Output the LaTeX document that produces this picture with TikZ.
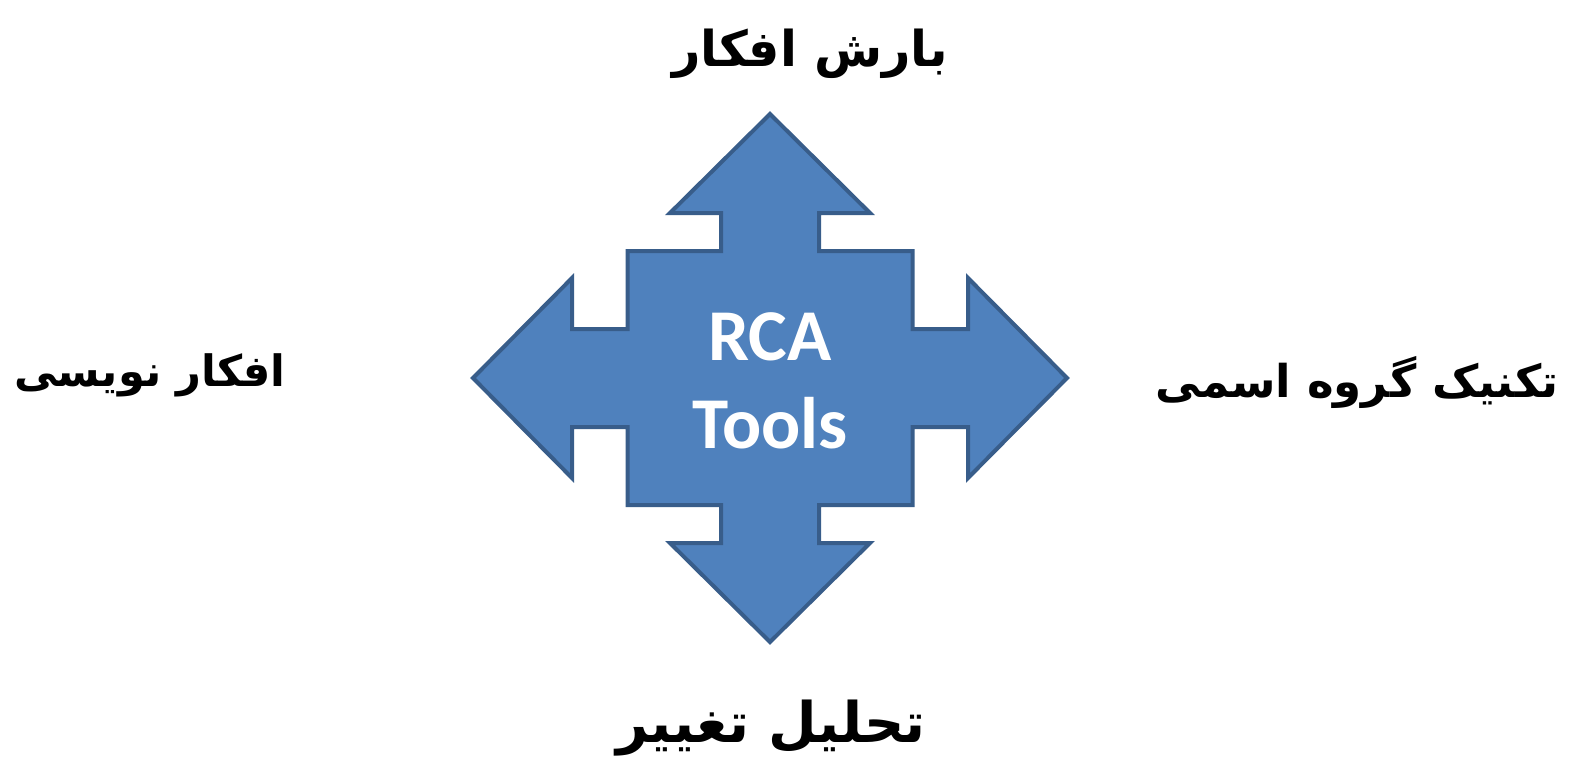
\documentclass[tikz,border=0pt]{standalone}
\usepackage{fontspec}
\TeXXeTstate=1
\newfontfamily\arabicfont[Script=Arabic]{DejaVu Sans}
\newfontfamily\calib{Carlito}
\definecolor{arrowfill}{HTML}{4F81BD}
\definecolor{arrowline}{HTML}{385D8A}
\begin{document}
\begin{tikzpicture}[x=0.5pt,y=-0.5pt,
  fatext/.style={font=\arabicfont\bfseries\fontsize{#1}{30}\selectfont, text=black, inner sep=0pt, anchor=center},
  quad/.style={fill=arrowfill, draw=arrowline, line width=2pt, line join=miter},
  centertext/.style={font=\calib\bfseries\fontsize{36.5}{44}\selectfont, text=white, align=center, inner sep=0pt}]
\useasboundingbox (0,0) rectangle (1572,766);
% quad arrow centred at (770,378)
\begin{scope}[shift={(770,378)}]
\draw[quad] (0,-264) -- (100,-165) -- (49,-165) -- (49,-127) -- (142.5,-127) -- (142.5,-49)
  -- (198,-49) -- (198,-100) -- (297,0) -- (198,100) -- (198,49) -- (142.5,49) -- (142.5,127) -- (49,127)
  -- (49,165) -- (100,165) -- (0,264) -- (-100,165) -- (-49,165) -- (-49,127) -- (-142.5,127)
  -- (-142.5,49) -- (-198,49) -- (-198,100) -- (-297,0) -- (-198,-100) -- (-198,-49)
  -- (-142.5,-49) -- (-142.5,-127) -- (-49,-127) -- (-49,-165) -- (-100,-165) -- cycle;
\end{scope}
\node[centertext] (center) at (770,381) {RCA\\Tools};
\node[fatext=24.7] (top) at (810,54) {\beginR بارش افکار\endR};
\node[fatext=21.6] (left) at (150,375) {\beginR افکار نویسی\endR};
\node[fatext=22.6] (right) at (1357,382) {\beginR تکنیک گروه اسمی\endR};
\node[fatext=28] (bottom) at (771,728) {\beginR تحلیل تغییر\endR};
\end{tikzpicture}
\end{document}
